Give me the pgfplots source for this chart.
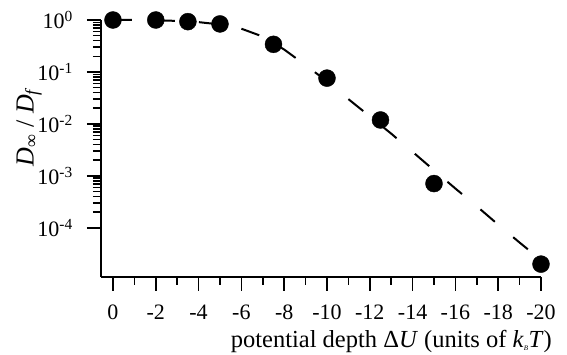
\documentclass[border=0pt]{standalone}
\usepackage{fontspec}
\setmainfont{Liberation Serif}
\usepackage{pgfplots}
\pgfplotsset{compat=1.18}
\newcommand{\tickf}{\fontsize{22bp}{26bp}\selectfont}
\newcommand{\labf}{\fontsize{24.5bp}{28bp}\selectfont}
\newcommand{\ylabf}{\fontsize{26bp}{30bp}\selectfont}
\begin{document}
\begin{tikzpicture}
\begin{semilogyaxis}[
  name=ax,
  scale only axis, width=440bp, height=257bp,
  x dir=reverse, xmin=-20, xmax=0.56,
  ymin=1.13e-5, ymax=1,
  axis x line*=bottom, axis y line*=left,
  axis line style={line width=1.6bp, -},
  tick align=outside,
  major tick length=14bp, minor tick length=8bp,
  every tick/.style={black, line width=1.6bp},
  xtick={0,-2,-4,-6,-8,-10,-12,-14,-16,-18,-20},
  xticklabels={0,-2,-4,-6,-8,-10,-12,-14,-16,-18,-20},
  minor x tick num=1,
  ytick={1e-4,1e-3,1e-2,1e-1,1},
  yticklabels={10\textsuperscript{-4},10\textsuperscript{-3},10\textsuperscript{-2},10\textsuperscript{-1},10\textsuperscript{0}},
  tick label style={font=\tickf},
  xticklabel style={inner sep=0pt, anchor=north, yshift=-14bp},
  yticklabel style={inner sep=0pt, anchor=east, xshift=-14bp},
  xlabel={potential depth Δ\textit{U} (units of \textit{k}\textsubscript{\textit{\scriptsize B}}\textit{T})},
  ylabel={\textit{D}\textsubscript{∞} / \textit{D}\textsubscript{\textit{f}}},
  xlabel style={font=\labf, at={(axis description cs:0.66,-0.205)}, anchor=north, inner sep=0pt},
  ylabel style={font=\ylabf, at={(axis description cs:-0.1636,0.584)}, anchor=center, inner sep=0pt},
  clip=false,
]
\addplot[black, line width=2bp, dash pattern=on 19bp off 24bp] coordinates {
  (0,1.0) (-1,1.0) (-2,0.99) (-3,0.96) (-4,0.91) (-5,0.82) (-6,0.68) (-7,0.48)
  (-8,0.27) (-9,0.135) (-10,0.066) (-11,0.030) (-12,0.014) (-13,0.0065)
  (-14,0.0029) (-15,0.00128) (-16,0.00057) (-17,0.00026) (-18,0.000115)
  (-19,0.000052) (-20,0.000024)
};
\addplot[only marks, mark=*, mark size=8.5bp, black] coordinates {
  (0,1.0) (-2,1.0) (-3.5,0.93) (-5,0.84) (-7.5,0.34) (-10,0.076)
  (-12.5,0.0119) (-15,0.00071) (-20,0.00002)
};
\end{semilogyaxis}
\path ([shift={(-101bp,-78bp)}]ax.south west) rectangle ([shift={(26bp,20bp)}]ax.north east);
\end{tikzpicture}
\end{document}
